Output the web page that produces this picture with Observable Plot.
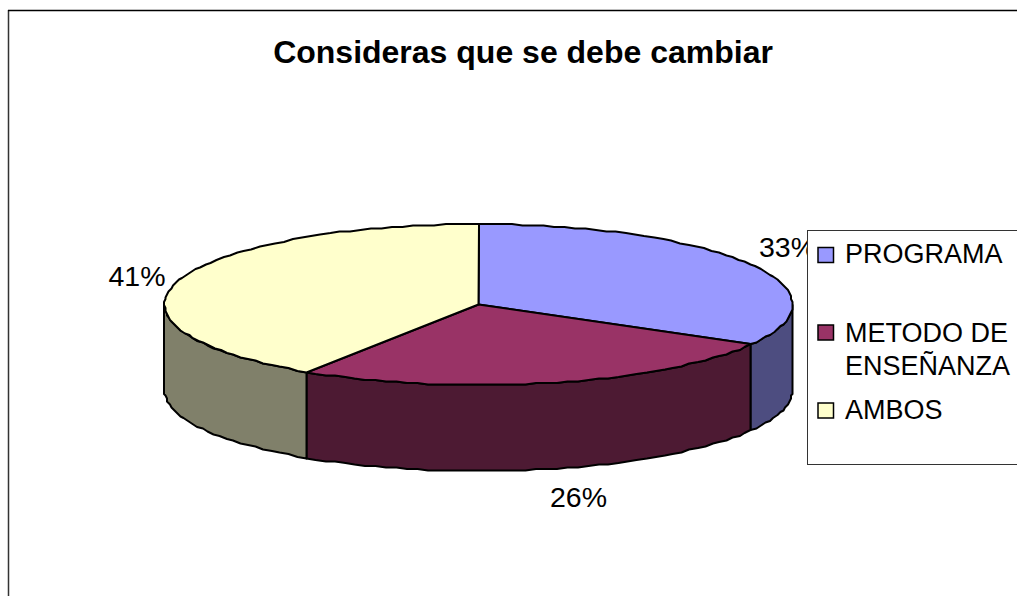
<!DOCTYPE html>
<html>
<head>
<meta charset="utf-8">
<script src="https://cdn.jsdelivr.net/npm/d3@7"></script>
<script src="https://cdn.jsdelivr.net/npm/@observablehq/plot@0.6"></script>
<style>
  html, body { margin: 0; padding: 0; background: #fff; overflow: hidden; }
  svg { display: block; }
</style>
</head>
<body>
<div id="chart"></div>
<script>
const title = "Consideras que se debe cambiar";
const categories = ["PROGRAMA", "METODO DE\nENSEÑANZA", "AMBOS"];
const values = [33.3, 25.9, 40.8];
const labels = ["33%", "26%", "41%"];
const topColors = ["#9999FF", "#993366", "#FFFFCC"];
const sideColors = ["#4D4D80", "#4D1A33", "#80806A"];

// Pie geometry, in the page's pixel-like data units
const cx = 478, cy = 304, rx = 314, ry = 80.5, depth = 86;
const total = d3.sum(values);
const starts = d3.cumsum([0, ...values]).map(v => v / total * 2 * Math.PI);
// Coordinates snap to a fine grid, which gives the faintly stepped outline of the original
const snap = v => Math.round(v / 1.5) * 1.5;
const onRim = (t, dy = 0) => ({x: snap(cx + rx * Math.sin(t)), y: snap(cy - ry * Math.cos(t)) + dy});
const arc = (a, b, dy = 0) => {
  const n = Math.max(2, Math.round((b - a) / (2 * Math.PI) * 180));
  return d3.range(0, n + 1).map(i => onRim(a + (b - a) * i / n, dy));
};

const wedges = values.map((_, i) => [
  {x: cx, y: cy}, ...arc(starts[i], starts[i + 1]), {x: cx, y: cy}
]);
const sides = values.map((_, i) => {
  const a = Math.max(starts[i], Math.PI / 2), b = Math.min(starts[i + 1], 3 * Math.PI / 2);
  if (a >= b) return null;
  const front = arc(a, b);
  return [...front, ...arc(a, b, depth).reverse(), front[0]];
});

const font = "'Liberation Sans', Arial, sans-serif";
const lineOpts = {x: "x", y: "y", curve: "linear", stroke: "#000", strokeWidth: 2, strokeLinejoin: "round"};

const labelPos = [{x: 787, y: 247}, {x: 578, y: 497}, {x: 136.5, y: 276}];
const legendY = [255, 332.5, 410.5];
const legendTextY = [252, 347, 408];

const chart = Plot.plot({
  width: 1017,
  height: 596,
  margin: 0,
  style: {background: "#fff", fontFamily: font},
  x: {domain: [0, 1017], axis: null},
  y: {domain: [596, 0], axis: null},
  marks: [
    // chart frame
    Plot.ruleX([8], {y1: 10, y2: 596, stroke: "#333", strokeWidth: 1.5}),
    Plot.ruleY([10], {x1: 8, x2: 1017, stroke: "#000", strokeWidth: 1.5}),
    Plot.text([title], {x: 522.5, y: 52, text: d => d, fontSize: 32, fontWeight: "bold", fill: "#000", textAnchor: "middle"}),
    // pie sides, then tops
    ...sides.map((s, i) => s && Plot.line(s, {...lineOpts, fill: sideColors[i]})).filter(Boolean),
    ...wedges.map((w, i) => Plot.line(w, {...lineOpts, fill: topColors[i]})),
    // value labels
    Plot.text(labels, {x: (_, i) => labelPos[i].x, y: (_, i) => labelPos[i].y, text: d => d, fontSize: 28.5, fill: "#000", textAnchor: "middle"}),
    // legend
    Plot.rect([0], {x1: 807.5, x2: 1030, y1: 230.5, y2: 464.5, fill: "#fff", stroke: "#333", strokeWidth: 1}),
    Plot.rect(categories, {
      x1: 818, x2: 833.5,
      y1: (_, i) => legendY[i] - 7.5, y2: (_, i) => legendY[i] + 7.5,
      fill: (_, i) => topColors[i], stroke: "#000", strokeWidth: 1.5
    }),
    Plot.text(categories, {
      x: 844.5, y: (_, i) => legendTextY[i],
      text: d => d, fontSize: 27, lineHeight: 1.22, fill: "#000", textAnchor: "start"
    })
  ]
});
document.getElementById("chart").append(chart);
</script>
</body>
</html>
